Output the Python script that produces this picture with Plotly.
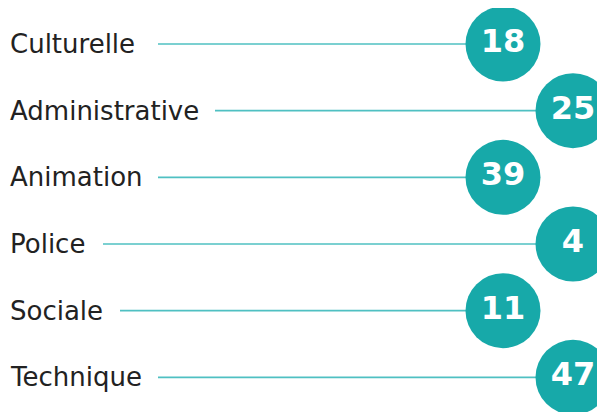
import plotly.graph_objects as go

# ----- data -----
categories = ["Culturelle", "Administrative", "Animation", "Police", "Sociale", "Technique"]
values = [18, 25, 39, 4, 11, 47]

# ----- layout helpers (page pixel units) -----
line_start = [158, 215, 158, 103, 120, 158]
bubble_x = [503, 573, 503, 573, 503, 573]

circle_color = "#17a9a9"
line_color = "#4fc0c2"

fig = go.Figure()

# connector lines
lx, ly = [], []
for cat, x0, x1 in zip(categories, line_start, bubble_x):
    lx += [x0, x1, None]
    ly += [cat, cat, None]

fig.add_trace(go.Scatter(
    x=lx, y=ly,
    mode="lines",
    line=dict(color=line_color, width=1.7),
    hoverinfo="skip",
    showlegend=False
))

# bubbles with the counts
fig.add_trace(go.Scatter(
    x=bubble_x,
    y=categories,
    mode="markers+text",
    marker=dict(size=75, color=circle_color, line=dict(width=0)),
    text=[str(v) for v in values],
    textposition="middle center",
    textfont=dict(family="DejaVu Sans", size=32, color="white", weight="bold"),
    showlegend=False
))

# category labels
for cat in categories:
    fig.add_annotation(
        x=8, y=cat, text=cat,
        xanchor="left", yanchor="middle",
        showarrow=False,
        font=dict(family="DejaVu Sans", size=26, color="#222222")
    )

# page has an 8px body margin, so the figure is 8px smaller and axes shifted
fig.update_layout(
    width=597, height=404,
    margin=dict(l=0, r=0, t=0, b=0),
    paper_bgcolor="white",
    plot_bgcolor="white",
    xaxis=dict(range=[8, 605], visible=False, fixedrange=True),
    yaxis=dict(type="category", categoryarray=categories,
               range=[5.52, -0.54], visible=False, fixedrange=True),
)

fig.write_html("out.html")
